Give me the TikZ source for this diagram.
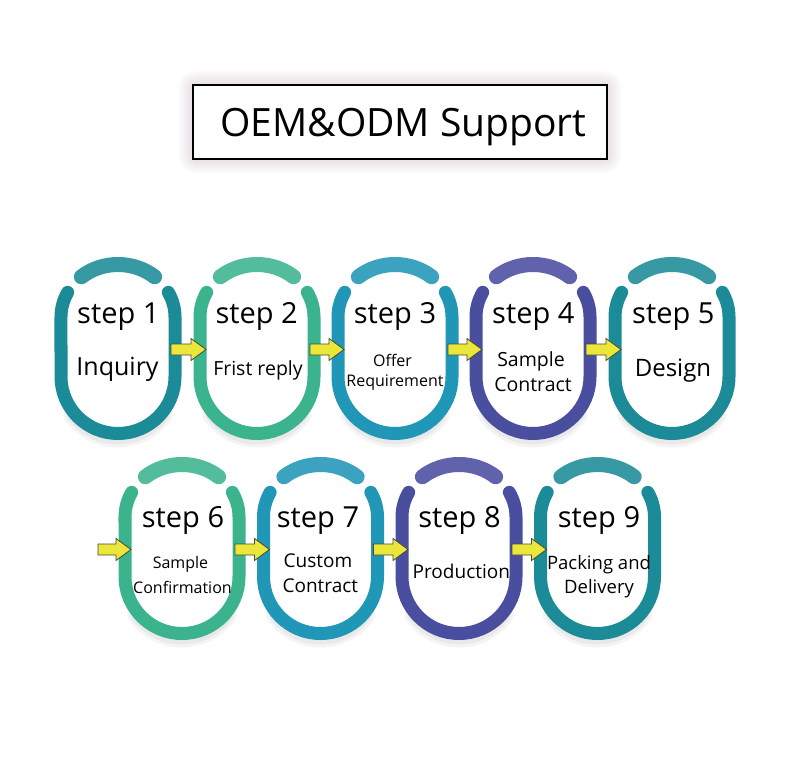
\documentclass[tikz,border=0pt]{standalone}
\usepackage{fontspec}
\setmainfont{Open Sans}
\usetikzlibrary{calc}
\definecolor{cteal}{HTML}{1B8B97}
\definecolor{cgreen}{HTML}{3BB38D}
\definecolor{cblue}{HTML}{2097B6}
\definecolor{cindigo}{HTML}{4A4E9F}
\definecolor{arrowyellow}{HTML}{EAE73A}
\definecolor{arrowedge}{HTML}{4A4A3A}
\definecolor{glowcol}{HTML}{B89AA8}
\tikzset{
  ringline/.style={line width=13pt, line cap=round},
  toparcline/.style={line width=15pt, line cap=round},
  ringshadow/.style={line width=#1, draw=black, opacity=0.045, line cap=round},
  steptitle/.style={anchor=base, inner sep=0pt, text=black, font=\fontsize{29}{31}\selectfont},
  sublabel/.style={anchor=base, inner sep=0pt, text=black},
  blockarrow/.style={fill=arrowyellow, draw=arrowedge, line width=0.8pt, line join=miter},
  titlebox/.style={draw=black, fill=white, line width=2.5pt},
}
% #1 name, #2 cx, #3 top y, #4 colour
\newcommand\stepring[4]{%
  \coordinate (#1) at (#2,#3+100);
  \coordinate (#1in) at (#2-51,#3+92.5);
  \coordinate (#1out) at (#2+53,#3+92.5);
  \foreach \w in {10,16}{
    \draw[ringshadow=\w pt] (#2,#3+119.5) ++(35:57) ++(0,6) arc[start angle=35,end angle=145,radius=57];
  }
  \draw[ringline, draw=#4] (#2-50.33,#3+35.35)
     arc[start angle=208, end angle=180, x radius=57, y radius=52.5]
     -- (#2-57,#3+119.5)
     arc[start angle=180, end angle=0, radius=57]
     -- (#2+57,#3+60)
     arc[start angle=0, end angle=-28, x radius=57, y radius=52.5];
  \draw[toparcline, draw=#4!88!white] (#2-36.64,#3+19.78)
     arc[start angle=230, end angle=310, x radius=57, y radius=52.5];
}
\newcommand\blockarr[2]{%
  \draw[blockarrow] let \p1=(#1), \p2=(#2) in
    (\x1,\y1+5.5) -- (\x2-15,\y1+5.5) -- (\x2-15,\y1+11) -- (\x2,\y1)
    -- (\x2-15,\y1-11) -- (\x2-15,\y1-5.5) -- (\x1,\y1-5.5) -- cycle;
}
\begin{document}
\begin{tikzpicture}[x=1pt,y=-1pt]
\useasboundingbox[fill=white] (0,0) rectangle (800,760);

% title with soft glow
\foreach \i in {1,...,9}{
  \draw[draw=glowcol, opacity=0.03, line width=\i*3.2pt, rounded corners=4pt] (193,85) rectangle (607,159);
}
\node[titlebox, minimum width=414pt, minimum height=74pt, inner sep=0pt] (title) at (400,122) {};
\node[anchor=base, inner sep=0pt, font=\fontsize{39}{42}\selectfont] (titletext) at (403.5,136.5) {OEM\&ODM Support};

% rings row 1
\stepring{s1}{118}{257}{cteal}
\stepring{s2}{257}{257}{cgreen}
\stepring{s3}{395}{257}{cblue}
\stepring{s4}{533}{257}{cindigo}
\stepring{s5}{672}{257}{cteal}
% rings row 2
\stepring{s6}{182}{457}{cgreen}
\stepring{s7}{320.5}{457}{cblue}
\stepring{s8}{459}{457}{cindigo}
\stepring{s9}{597.5}{457}{cteal}

% arrows
\coordinate (start6) at (98,549.5);
\blockarr{s1out}{s2in}
\blockarr{s2out}{s3in}
\blockarr{s3out}{s4in}
\blockarr{s4out}{s5in}
\blockarr{start6}{s6in}
\blockarr{s6out}{s7in}
\blockarr{s7out}{s8in}
\blockarr{s8out}{s9in}

% texts row 1
\node[steptitle] (t1) at (118.3,323) {step 1};
\node[steptitle] (t2) at (256.7,323) {step 2};
\node[steptitle] (t3) at (395,323) {step 3};
\node[steptitle] (t4) at (533.3,323) {step 4};
\node[steptitle] (t5) at (673.3,323) {step 5};
\node[sublabel, font=\fontsize{25}{28}\selectfont] (l1) at (117.5,375) {Inquiry};
\node[sublabel, font=\fontsize{19.5}{22}\selectfont] (l2) at (258,375) {Frist reply};
\node[sublabel, font=\fontsize{16}{18}\selectfont] (l3a) at (392.5,366.7) {Offer};
\node[sublabel, font=\fontsize{16}{18}\selectfont] (l3b) at (395,386.7) {Requirement};
\node[sublabel, font=\fontsize{19.5}{22}\selectfont] (l4a) at (531,366.7) {Sample};
\node[sublabel, font=\fontsize{19.5}{22}\selectfont] (l4b) at (533,391.7) {Contract};
\node[sublabel, font=\fontsize{24}{27}\selectfont] (l5) at (673,376.7) {Design};
% texts row 2
\node[steptitle] (t6) at (183,527.7) {step 6};
\node[steptitle] (t7) at (318,527.7) {step 7};
\node[steptitle] (t8) at (459.5,527.7) {step 8};
\node[steptitle] (t9) at (599,527.7) {step 9};
\node[sublabel, font=\fontsize{16}{18}\selectfont] (l6a) at (180.5,568.3) {Sample};
\node[sublabel, font=\fontsize{16}{18}\selectfont] (l6b) at (182.5,593.3) {Confirmation};
\node[sublabel, font=\fontsize{19}{22}\selectfont] (l7a) at (318,567.7) {Custom};
\node[sublabel, font=\fontsize{19}{22}\selectfont] (l7b) at (320.3,592.3) {Contract};
\node[sublabel, font=\fontsize{19}{22}\selectfont] (l8) at (461.3,578.3) {Production};
\node[sublabel, font=\fontsize{18.5}{21}\selectfont] (l9a) at (599,569) {Packing and};
\node[sublabel, font=\fontsize{18.5}{21}\selectfont] (l9b) at (599,593.3) {Delivery};
\end{tikzpicture}
\end{document}
